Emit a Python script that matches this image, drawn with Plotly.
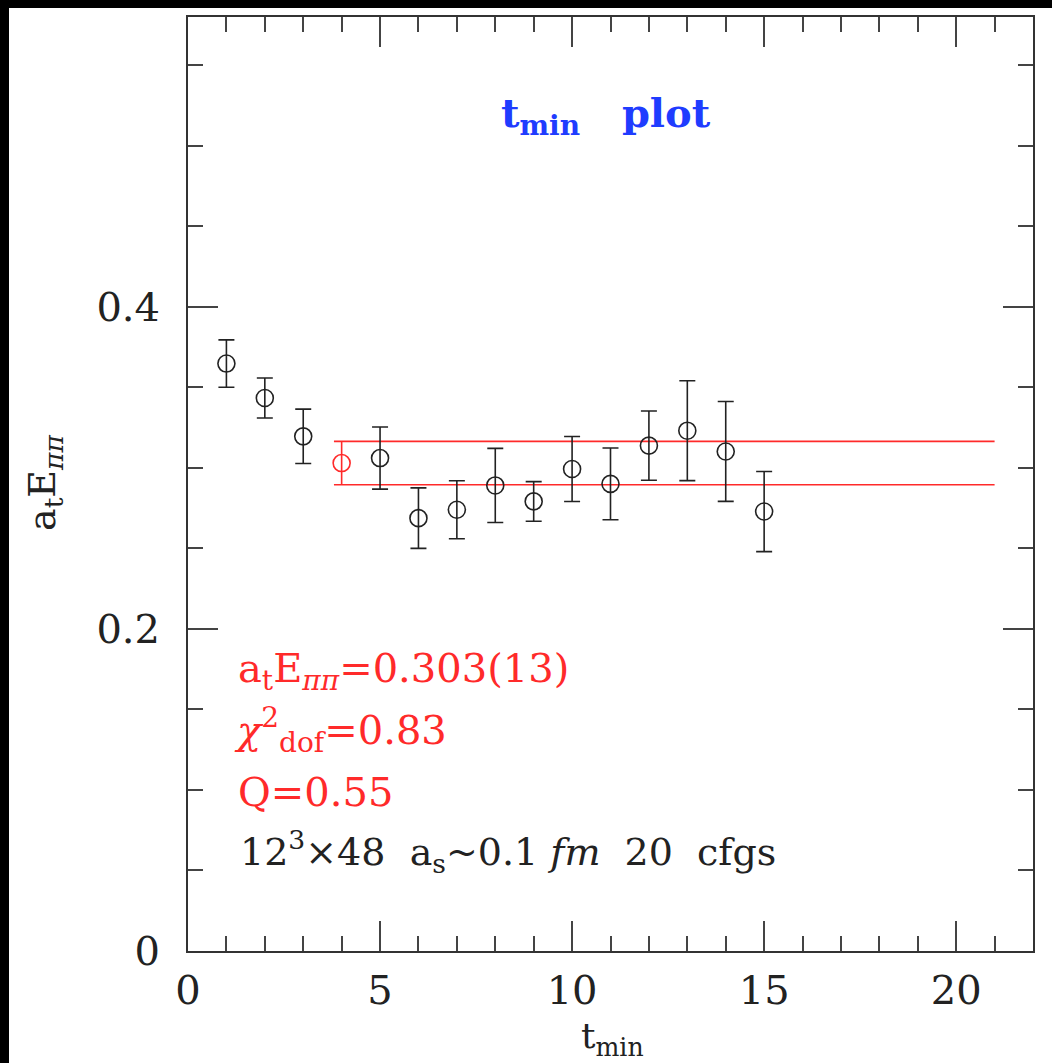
import plotly.graph_objects as go

# ---- data ----
t_min = [1, 2, 3, 5, 6, 7, 8, 9, 10, 11, 12, 13, 14, 15]
energy = [0.3648, 0.3434, 0.3196, 0.3061, 0.2688, 0.2740, 0.2891, 0.2792,
          0.2993, 0.2901, 0.3138, 0.3231, 0.3102, 0.2729]
energy_err = [0.0147, 0.0124, 0.0169, 0.0193, 0.0188, 0.0180, 0.0230, 0.0123,
              0.0202, 0.0223, 0.0215, 0.0310, 0.0310, 0.0249]

chosen_t = [4]
fit_value = 0.303
fit_err = 0.0135
band_x = [3.8, 21.0]

x_ticks = [0, 5, 10, 15, 20]
y_ticks = [0, 0.2, 0.4]
y_tick_text = ["0", "0.2", "0.4"]

FONT = "DejaVu Serif"
RED = "#ff2a2a"
BLACK = "#222222"

fig = go.Figure()

# fit band lines
fig.add_trace(go.Scatter(x=band_x, y=[fit_value + fit_err] * 2, mode="lines",
                         line=dict(color=RED, width=1.6), hoverinfo="skip", showlegend=False))
fig.add_trace(go.Scatter(x=band_x, y=[fit_value - fit_err] * 2, mode="lines",
                         line=dict(color=RED, width=1.6), hoverinfo="skip", showlegend=False))

# data points
fig.add_trace(go.Scatter(
    x=t_min, y=energy, mode="markers",
    marker=dict(symbol="circle-open", size=17, color=BLACK, line=dict(width=1.6, color=BLACK)),
    error_y=dict(type="data", array=energy_err, visible=True, color=BLACK, thickness=1.6, width=8),
    showlegend=False))

# chosen fit point
fig.add_trace(go.Scatter(
    x=chosen_t, y=[fit_value], mode="markers",
    marker=dict(symbol="circle-open", size=17, color=RED, line=dict(width=1.6, color=RED)),
    error_y=dict(type="data", array=[fit_err], visible=True, color=RED, thickness=1.6, width=0),
    showlegend=False))

W, H = 1052, 1063
L, R, T, B = 188, 19, 17, 112
pw, ph = W - L - R, H - T - B

def px_x(px):
    return (px - L) / pw

def px_y(py):
    return (H - B - py) / ph

axis_common = dict(showline=True, linecolor="#333333", linewidth=2, mirror="allticks",
                   ticks="inside", ticklen=30, tickwidth=1.5, tickcolor="#444444",
                   showgrid=False, zeroline=False, automargin=False,
                   tickfont=dict(family=FONT, size=40, color="#222222"))

fig.update_xaxes(range=[0, 22], tickvals=x_ticks, ticktext=[str(v) for v in x_ticks],
                 minor=dict(ticks="inside", ticklen=15, dtick=1, tick0=0, tickcolor="#444444",
                            tickwidth=1.5, showgrid=False),
                 ticklabelstandoff=3,
                 **axis_common)
fig.update_yaxes(range=[0, 0.58], tickvals=y_ticks, ticktext=y_tick_text,
                 minor=dict(ticks="inside", ticklen=15, dtick=0.05, tick0=0, tickcolor="#444444",
                            tickwidth=1.5, showgrid=False),
                 ticklabelstandoff=18,
                 **axis_common)

annotations = [
    # axis titles
    dict(text="t<sub>min</sub>", x=px_x(612), y=px_y(1063), xref="paper", yref="paper",
         xanchor="center", yanchor="bottom", showarrow=False, borderpad=0,
         font=dict(family=FONT, size=36, color="#222222")),
    dict(text="a<sub>t</sub>E<sub><i>ππ</i></sub>", x=px_x(44), y=px_y(483), xref="paper", yref="paper",
         xanchor="center", yanchor="middle", textangle=-90, showarrow=False,
         font=dict(family=FONT, size=38, color="#222222")),
    # title
    dict(text="<b>t<sub>min</sub>   plot</b>", x=px_x(606), y=px_y(115), xref="paper", yref="paper",
         xanchor="center", yanchor="middle", showarrow=False,
         font=dict(family=FONT, size=40, color="#1f3cff")),
    # fit results
    dict(text="a<sub>t</sub>E<sub><i>ππ</i></sub>=0.303(13)", x=px_x(236), y=px_y(671),
         xref="paper", yref="paper", xanchor="left", yanchor="middle", showarrow=False,
         font=dict(family=FONT, size=40, color=RED)),
    dict(text="<i>χ</i><sup>2</sup><sub>dof</sub>=0.83", x=px_x(232), y=px_y(730), xref="paper", yref="paper",
         xanchor="left", yanchor="middle", showarrow=False, font=dict(family=FONT, size=40, color=RED)),
    dict(text="Q=0.55", x=px_x(236), y=px_y(792), xref="paper", yref="paper",
         xanchor="left", yanchor="middle", showarrow=False, font=dict(family=FONT, size=40, color=RED)),
    dict(text="12<sup>3</sup>×48  a<sub>s</sub>~0.1 <i>fm</i>  20  cfgs", x=px_x(238), y=px_y(851),
         xref="paper", yref="paper", xanchor="left", yanchor="middle", showarrow=False,
         font=dict(family=FONT, size=38, color="#222222")),
]

shapes = [
    dict(type="rect", xref="paper", yref="paper", x0=px_x(0), x1=px_x(W), y0=px_y(0), y1=px_y(8),
         fillcolor="black", line=dict(width=0), layer="above"),
    dict(type="rect", xref="paper", yref="paper", x0=px_x(0), x1=px_x(9), y0=px_y(0), y1=px_y(H),
         fillcolor="black", line=dict(width=0), layer="above"),
]

fig.update_layout(width=W, height=H, margin=dict(l=L, r=R, t=T, b=B),
                  paper_bgcolor="white", plot_bgcolor="white",
                  annotations=annotations, shapes=shapes, showlegend=False)

fig.write_html("out.html")
